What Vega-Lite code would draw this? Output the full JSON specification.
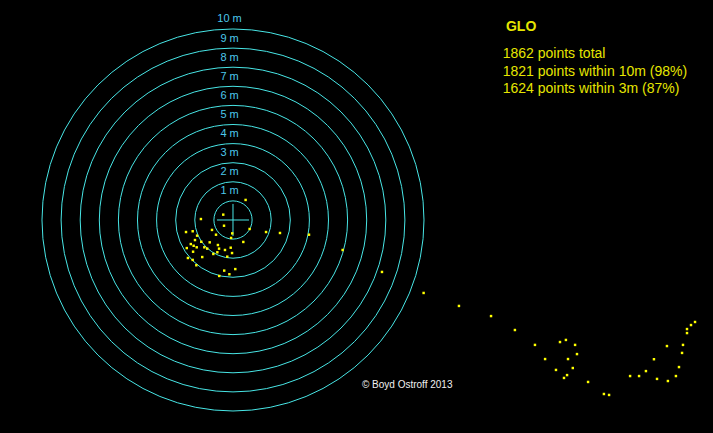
{
  "$schema": "https://vega.github.io/schema/vega-lite/v6.json",
  "description": "GLO position scatter around a fixed point, with 1-10 m range rings.",
  "autosize": {"type": "fit", "contains": "padding"},
  "width": 713,
  "height": 433,
  "padding": 0,
  "background": "black",
  "datasets": {
    "rings": [
      {"r": 1, "label": "1 m"},
      {"r": 2, "label": "2 m"},
      {"r": 3, "label": "3 m"},
      {"r": 4, "label": "4 m"},
      {"r": 5, "label": "5 m"},
      {"r": 6, "label": "6 m"},
      {"r": 7, "label": "7 m"},
      {"r": 8, "label": "8 m"},
      {"r": 9, "label": "9 m"},
      {"r": 10, "label": "10 m"}
    ],
    "fixes": [
      {"east": 0.66, "north": 1.05},
      {"east": -0.51, "north": 0.28},
      {"east": -0.47, "north": -0.30},
      {"east": -1.68, "north": 0.05},
      {"east": -2.46, "north": -0.63},
      {"east": -2.11, "north": -0.59},
      {"east": -1.10, "north": -0.52},
      {"east": -0.89, "north": -0.77},
      {"east": -0.04, "north": -0.70},
      {"east": -0.10, "north": -0.94},
      {"east": 0.87, "north": -0.47},
      {"east": 0.54, "north": -1.15},
      {"east": -1.88, "north": -0.82},
      {"east": -1.99, "north": -1.05},
      {"east": -1.66, "north": -1.14},
      {"east": -1.22, "north": -1.17},
      {"east": -2.21, "north": -1.26},
      {"east": -2.06, "north": -1.35},
      {"east": -1.90, "north": -1.43},
      {"east": -2.42, "north": -1.47},
      {"east": -1.50, "north": -1.43},
      {"east": -1.35, "north": -1.50},
      {"east": -0.79, "north": -1.31},
      {"east": -0.73, "north": -1.50},
      {"east": -0.42, "north": -1.57},
      {"east": -0.12, "north": -1.45},
      {"east": -0.82, "north": -1.69},
      {"east": -1.03, "north": -1.78},
      {"east": -2.09, "north": -1.66},
      {"east": -2.36, "north": -1.99},
      {"east": -1.61, "north": -1.94},
      {"east": -0.05, "north": -1.73},
      {"east": -0.30, "north": -1.92},
      {"east": -1.92, "north": -2.37},
      {"east": 0.12, "north": -2.57},
      {"east": -0.46, "north": -2.65},
      {"east": -0.19, "north": -2.84},
      {"east": -0.72, "north": -2.93},
      {"east": -2.11, "north": -2.09},
      {"east": 1.73, "north": -0.63},
      {"east": 2.46, "north": -0.68},
      {"east": 3.98, "north": -0.77},
      {"east": 5.74, "north": -1.57},
      {"east": 7.80, "north": -2.72},
      {"east": 9.98, "north": -3.82},
      {"east": 11.83, "north": -4.50},
      {"east": 13.51, "north": -5.03},
      {"east": 14.76, "north": -5.76},
      {"east": 15.81, "north": -6.54},
      {"east": 16.34, "north": -7.28},
      {"east": 16.91, "north": -7.85},
      {"east": 17.12, "north": -6.39},
      {"east": 17.43, "north": -6.28},
      {"east": 17.91, "north": -6.54},
      {"east": 18.01, "north": -7.02},
      {"east": 17.54, "north": -7.28},
      {"east": 17.79, "north": -7.75},
      {"east": 17.49, "north": -8.12},
      {"east": 17.33, "north": -8.27},
      {"east": 18.59, "north": -8.48},
      {"east": 19.42, "north": -9.11},
      {"east": 19.69, "north": -9.16},
      {"east": 20.79, "north": -8.17},
      {"east": 21.26, "north": -8.17},
      {"east": 21.62, "north": -7.91},
      {"east": 22.04, "north": -7.29},
      {"east": 22.20, "north": -8.32},
      {"east": 22.77, "north": -8.43},
      {"east": 23.19, "north": -8.17},
      {"east": 23.35, "north": -7.70},
      {"east": 22.72, "north": -6.60},
      {"east": 23.51, "north": -6.96},
      {"east": 23.56, "north": -6.54},
      {"east": 23.77, "north": -5.71},
      {"east": 23.77, "north": -5.92},
      {"east": 23.98, "north": -5.50},
      {"east": 24.19, "north": -5.34}
    ]
  },
  "layer": [
    {
      "data": {"name": "rings"},
      "mark": {"type": "point", "shape": "circle", "filled": false, "stroke": "#48e6e6", "strokeWidth": 1, "opacity": 1},
      "encoding": {
        "x": {"datum": 0, "type": "quantitative", "axis": null,
              "scale": {"domain": [-12.199, 25.131], "nice": false, "zero": false}},
        "y": {"datum": 0, "type": "quantitative", "axis": null,
              "scale": {"domain": [-11.152, 11.518], "nice": false, "zero": false}},
        "size": {"field": "r", "type": "quantitative", "legend": null,
                 "scale": {"type": "pow", "exponent": 2, "domain": [0, 10], "range": [0, 145924]}}
      }
    },
    {
      "data": {"name": "rings"},
      "mark": {"type": "text", "color": "#4cc8ec", "font": "Liberation Sans", "fontSize": 11,
               "align": "center", "baseline": "middle", "dy": -9.5},
      "encoding": {
        "x": {"datum": -0.18, "type": "quantitative"},
        "y": {"field": "r", "type": "quantitative"},
        "text": {"field": "label"}
      }
    },
    {
      "data": {"values": [{}]},
      "mark": {"type": "rule", "color": "#48e6e6", "strokeWidth": 1},
      "encoding": {
        "x": {"datum": -0.84, "type": "quantitative"},
        "x2": {"datum": 0.84},
        "y": {"datum": 0, "type": "quantitative"}
      }
    },
    {
      "data": {"values": [{}]},
      "mark": {"type": "rule", "color": "#48e6e6", "strokeWidth": 1},
      "encoding": {
        "x": {"datum": 0, "type": "quantitative"},
        "y": {"datum": -0.84, "type": "quantitative"},
        "y2": {"datum": 0.84}
      }
    },
    {
      "data": {"name": "fixes"},
      "mark": {"type": "point", "shape": "square", "filled": true, "color": "#ffff00", "size": 6, "opacity": 1},
      "encoding": {
        "x": {"field": "east", "type": "quantitative"},
        "y": {"field": "north", "type": "quantitative"}
      }
    },
    {
      "data": {"values": [{}]},
      "mark": {"type": "text", "text": "GLO", "color": "#e6e600", "font": "Liberation Sans", "fontSize": 14,
               "fontWeight": "bold", "align": "left", "baseline": "middle"},
      "encoding": {
        "x": {"datum": 14.29, "type": "quantitative"},
        "y": {"datum": 10.12, "type": "quantitative"}
      }
    },
    {
      "data": {"values": [{}]},
      "mark": {"type": "text", "text": "1862 points total", "color": "#e6e600", "font": "Liberation Sans",
               "fontSize": 14, "align": "left", "baseline": "middle"},
      "encoding": {
        "x": {"datum": 14.12, "type": "quantitative"},
        "y": {"datum": 8.68, "type": "quantitative"}
      }
    },
    {
      "data": {"values": [{}]},
      "mark": {"type": "text", "text": "1821 points within 10m (98%)", "color": "#e6e600", "font": "Liberation Sans",
               "fontSize": 14, "align": "left", "baseline": "middle"},
      "encoding": {
        "x": {"datum": 14.12, "type": "quantitative"},
        "y": {"datum": 7.73, "type": "quantitative"}
      }
    },
    {
      "data": {"values": [{}]},
      "mark": {"type": "text", "text": "1624 points within 3m (87%)", "color": "#e6e600", "font": "Liberation Sans",
               "fontSize": 14, "align": "left", "baseline": "middle"},
      "encoding": {
        "x": {"datum": 14.12, "type": "quantitative"},
        "y": {"datum": 6.86, "type": "quantitative"}
      }
    },
    {
      "data": {"values": [{}]},
      "mark": {"type": "text", "text": "© Boyd Ostroff 2013", "color": "#f0f0f0", "font": "Liberation Sans",
               "fontSize": 10, "align": "left", "baseline": "middle"},
      "encoding": {
        "x": {"datum": 6.75, "type": "quantitative"},
        "y": {"datum": -8.64, "type": "quantitative"}
      }
    }
  ],
  "config": {
    "view": {"stroke": null},
    "axis": {"disable": true}
  }
}
